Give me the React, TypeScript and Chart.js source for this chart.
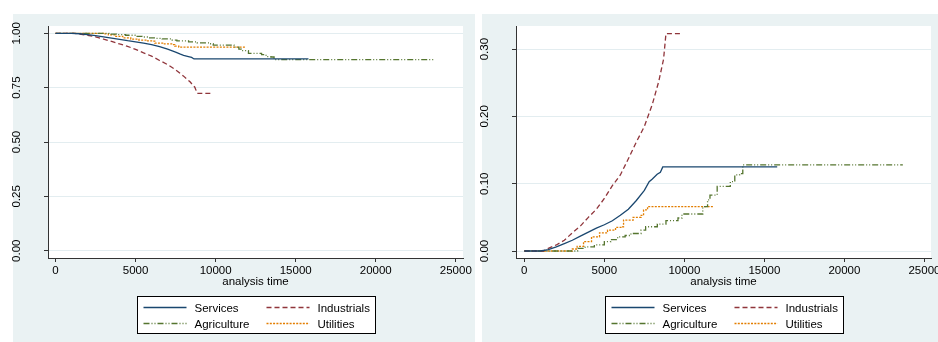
import React, { useEffect, useRef } from "react";
import { Chart, registerables } from "chart.js";

Chart.register(...registerables);

// ---- Data ----
const seriesNames = ["Services", "Industrials", "Agriculture", "Utilities"];
const xTicks = [0, 5000, 10000, 15000, 20000, 25000];
const survivalTicks = [0, 0.25, 0.5, 0.75, 1];
const hazardTicks = [0, 0.1, 0.2, 0.3];
const xAxisTitle = "analysis time";

const servicesTime = [0, 1000, 1500, 2000, 2500, 3000, 3500, 4000, 4500, 5000, 5500, 6000, 6500, 7000, 7500, 7800, 8000, 8300, 8500, 8650, 15800];
const servicesSurvival = [1, 1, 0.998, 0.994, 0.989, 0.984, 0.978, 0.972, 0.966, 0.961, 0.955, 0.948, 0.939, 0.927, 0.913, 0.904, 0.899, 0.893, 0.889, 0.882, 0.882];
const servicesHazard = [0, 0, 0.002, 0.006, 0.011, 0.016, 0.022, 0.028, 0.034, 0.039, 0.045, 0.053, 0.062, 0.075, 0.09, 0.103, 0.107, 0.114, 0.117, 0.125, 0.125];

const industrialsTime = [0, 1200, 1500, 2000, 2500, 3000, 3500, 4000, 4500, 5000, 5500, 6000, 6500, 7000, 7500, 8000, 8400, 8700, 8850, 9850];
const industrialsSurvival = [1, 1, 0.996, 0.991, 0.984, 0.973, 0.963, 0.951, 0.94, 0.926, 0.91, 0.895, 0.875, 0.856, 0.832, 0.803, 0.777, 0.752, 0.724, 0.724];
const industrialsHazard = [0, 0, 0.004, 0.009, 0.016, 0.027, 0.037, 0.05, 0.062, 0.078, 0.097, 0.113, 0.137, 0.162, 0.185, 0.218, 0.252, 0.285, 0.323, 0.323];

const agricultureTime = [0, 3000, 3330, 3800, 4375, 5000, 5400, 5830, 6300, 6660, 7290, 7580, 8310, 8850, 9600, 9850, 11150, 11450, 11600, 12050, 12870, 13150, 13450, 13650, 23650];
const agricultureSurvival = [1, 1, 0.996, 0.994, 0.991, 0.986, 0.983, 0.979, 0.977, 0.974, 0.969, 0.965, 0.961, 0.956, 0.952, 0.946, 0.936, 0.927, 0.92, 0.908, 0.902, 0.893, 0.891, 0.879, 0.879];
const agricultureHazard = [0, 0, 0.004, 0.006, 0.009, 0.014, 0.017, 0.021, 0.023, 0.026, 0.031, 0.036, 0.04, 0.045, 0.049, 0.055, 0.066, 0.076, 0.083, 0.096, 0.103, 0.113, 0.115, 0.128, 0.128];

const utilitiesTime = [0, 2400, 3000, 3300, 3700, 4200, 4700, 5200, 5700, 6100, 6200, 6800, 7300, 7450, 7700, 11850];
const utilitiesSurvival = [1, 1, 0.997, 0.993, 0.986, 0.979, 0.973, 0.969, 0.965, 0.964, 0.955, 0.951, 0.948, 0.941, 0.936, 0.936];
const utilitiesHazard = [0, 0, 0.003, 0.007, 0.014, 0.021, 0.027, 0.031, 0.035, 0.036, 0.046, 0.05, 0.053, 0.061, 0.066, 0.066];

// ---- Styles ----
const FONT = '"Liberation Sans", Arial, Helvetica, sans-serif';
const PANEL_BG = "#eaf2f3";
const GRID = "#e3edf0";
const AXIS = "#333333";
const seriesStyles = [
  { color: "#1a476f", dash: [] as number[], stepped: false },
  { color: "#90353b", dash: [5, 3], stepped: false },
  { color: "#55752f", dash: [6, 2, 1, 2, 1, 2], stepped: true },
  { color: "#e37e00", dash: [2, 1.3], stepped: true },
];

const zip = (xs: number[], ys: number[]) => xs.map((x, i) => ({ x, y: ys[i] }));

const survivalSeries = [
  zip(servicesTime, servicesSurvival),
  zip(industrialsTime, industrialsSurvival),
  zip(agricultureTime, agricultureSurvival),
  zip(utilitiesTime, utilitiesSurvival),
];
const hazardSeries = [
  zip(servicesTime, servicesHazard),
  zip(industrialsTime, industrialsHazard),
  zip(agricultureTime, agricultureHazard),
  zip(utilitiesTime, utilitiesHazard),
];

const whiteAreaPlugin = {
  id: "whiteArea",
  beforeDraw(chart: any) {
    const { ctx, chartArea } = chart;
    ctx.save();
    ctx.fillStyle = "#ffffff";
    ctx.fillRect(chartArea.left, chartArea.top, chartArea.right - chartArea.left, chartArea.bottom - chartArea.top);
    ctx.restore();
  },
};

const legendPlugin = {
  id: "stataLegend",
  afterDraw(chart: any) {
    const { ctx, chartArea } = chart;
    const w = 238;
    const h = 37;
    const left = Math.round((chartArea.left + chartArea.right) / 2 - w / 2) + 0.5;
    const top = Math.round(chartArea.bottom + 38) + 0.5;
    ctx.save();
    ctx.fillStyle = "#ffffff";
    ctx.fillRect(left, top, w, h);
    ctx.strokeStyle = "#000000";
    ctx.lineWidth = 1;
    ctx.setLineDash([]);
    ctx.strokeRect(left, top, w, h);
    chart.data.datasets.forEach((ds: any, i: number) => {
      const col = i % 2;
      const row = Math.floor(i / 2);
      const x0 = left + (col ? 129 : 6);
      const y = Math.round(top + (row ? 26.5 : 10)) + 0.5;
      ctx.strokeStyle = ds.borderColor;
      ctx.lineWidth = ds.borderWidth;
      ctx.setLineDash(ds.borderDash || []);
      ctx.beginPath();
      ctx.moveTo(x0, y);
      ctx.lineTo(x0 + 43, y);
      ctx.stroke();
      ctx.setLineDash([]);
      ctx.fillStyle = "#000000";
      ctx.font = `11.5px ${FONT}`;
      ctx.textBaseline = "middle";
      ctx.textAlign = "left";
      ctx.fillText(ds.label, x0 + 51, y + 1);
    });
    ctx.restore();
  },
};

type PanelProps = {
  left: number;
  width: number;
  series: { x: number; y: number }[][];
  yTicks: number[];
  yMin: number;
  yMax: number;
  xMin: number;
  xMax: number;
  yAxisWidth: number;
  rightPad: number;
};

function Panel(props: PanelProps) {
  const ref = useRef<HTMLCanvasElement | null>(null);
  useEffect(() => {
    if (!ref.current) return;
    const chart = new Chart(ref.current, {
      type: "line",
      data: {
        datasets: props.series.map((pts, i) => ({
          label: seriesNames[i],
          data: pts,
          borderColor: seriesStyles[i].color,
          borderDash: seriesStyles[i].dash,
          borderWidth: 1.3,
          pointRadius: 0,
          fill: false,
          tension: 0,
          stepped: seriesStyles[i].stepped,
        })),
      },
      options: {
        responsive: false,
        animation: false,
        devicePixelRatio: 1,
        events: [],
        layout: { padding: { left: 0, top: 12, right: props.rightPad, bottom: 0 } },
        plugins: { legend: { display: false }, tooltip: { enabled: false } },
        scales: {
          x: {
            type: "linear",
            min: props.xMin,
            max: props.xMax,
            afterBuildTicks: (scale: any) => {
              scale.ticks = xTicks.map((v) => ({ value: v }));
            },
            afterFit: (scale: any) => {
              scale.height = 84;
              scale.paddingLeft = 0;
              scale.paddingRight = 0;
            },
            ticks: {
              color: "#000",
              font: { family: FONT, size: 11.5 },
              padding: 2,
              maxRotation: 0,
              autoSkip: false,
              callback: (v: any) => String(v),
            },
            grid: { drawOnChartArea: false, drawTicks: true, tickLength: 4, tickColor: AXIS },
            border: { display: true, color: AXIS, width: 1 },
            title: {
              display: true,
              text: xAxisTitle,
              color: "#000",
              font: { family: FONT, size: 11.5 },
              padding: { top: 0, bottom: 53 },
            },
          },
          y: {
            type: "linear",
            min: props.yMin,
            max: props.yMax,
            afterBuildTicks: (scale: any) => {
              scale.ticks = props.yTicks.map((v) => ({ value: v }));
            },
            afterFit: (scale: any) => {
              scale.width = props.yAxisWidth;
              scale.paddingTop = 0;
              scale.paddingBottom = 0;
            },
            ticks: {
              color: "#000",
              font: { family: FONT, size: 11.5 },
              minRotation: 90,
              maxRotation: 90,
              crossAlign: "center",
              padding: 16,
              autoSkip: false,
              callback: (v: any) => Number(v).toFixed(2),
            },
            grid: { color: GRID, lineWidth: 1, drawTicks: true, tickLength: 4, tickColor: AXIS },
            border: { display: true, color: AXIS, width: 1 },
          },
        },
      },
      plugins: [whiteAreaPlugin, legendPlugin],
    } as any);
    return () => chart.destroy();
  }, []);
  return (
    <canvas
      ref={ref}
      width={props.width}
      height={328}
      style={{ position: "absolute", left: props.left, top: 14, width: props.width, height: 328 }}
    />
  );
}

export default function App() {
  return (
    <div style={{ position: "absolute", left: 0, top: 0, width: 938, height: 342, background: "#fff", overflow: "hidden" }}>
      <div style={{ position: "absolute", left: 13, top: 14, width: 462, height: 328, background: PANEL_BG }} />
      <div style={{ position: "absolute", left: 482, top: 14, width: 456, height: 328, background: PANEL_BG }} />
      <Panel
        left={0}
        width={476}
        series={survivalSeries}
        yTicks={survivalTicks}
        yMin={-0.0336}
        yMax={1.0336}
        xMin={-470}
        xMax={25450}
        yAxisWidth={48}
        rightPad={13}
      />
      <Panel
        left={476}
        width={462}
        series={hazardSeries}
        yTicks={hazardTicks}
        yMin={-0.0104}
        yMax={0.3343}
        xMin={-520}
        xMax={25410}
        yAxisWidth={40}
        rightPad={7}
      />
    </div>
  );
}
